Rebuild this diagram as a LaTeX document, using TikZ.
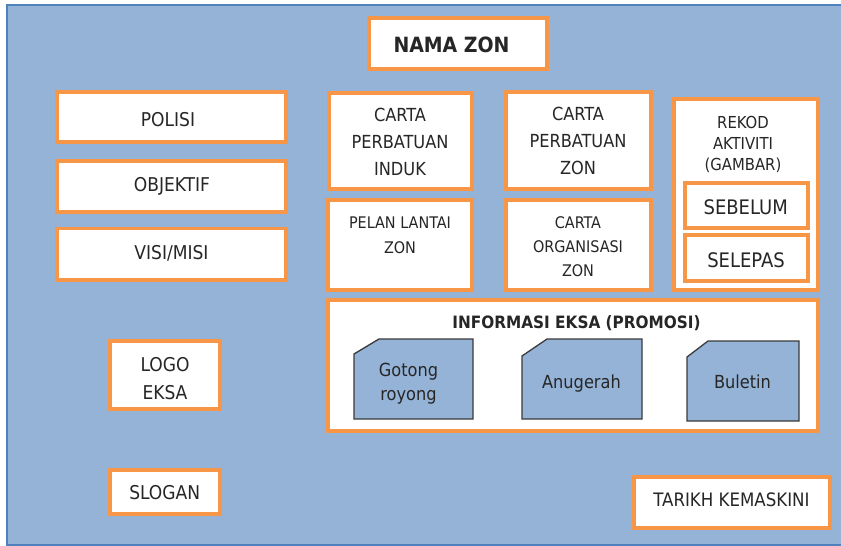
\documentclass[tikz,border=0pt]{standalone}
\usepackage{fontspec}
\setmainfont{DejaVu Sans Condensed}
\definecolor{bgblue}{HTML}{95B3D7}
\definecolor{bordblue}{HTML}{4F81BD}
\definecolor{orng}{HTML}{F79646}
\definecolor{txt}{HTML}{262626}
\definecolor{shapeline}{HTML}{3A3A3A}
\begin{document}
\begin{tikzpicture}[x=1pt,y=-1pt,
  obox/.style={draw=orng, line width=3.6pt, fill=white, inner sep=0pt, rectangle},
  lbl/.style={text=txt, inner sep=0pt, anchor=base, align=center},
  tagshape/.style={draw=shapeline, line width=1.3pt, fill=bgblue, line join=miter}]
\path[use as bounding box] (0,0) rectangle (841,546);
\draw[fill=bgblue, draw=bordblue, line width=2pt] (7,5) rectangle (846,545);

% boxes
\node[obox, minimum width=178.4pt, minimum height=51.4pt] (nama) at (458,43.5) {};
\node[obox, minimum width=229.4pt, minimum height=50.4pt] (polisi) at (171.5,117) {};
\node[obox, minimum width=229.4pt, minimum height=51.4pt] (objektif) at (171.5,186.5) {};
\node[obox, minimum width=229.4pt, minimum height=51.4pt] (visi) at (171.5,254) {};
\node[obox, minimum width=143.4pt, minimum height=96.4pt] (cpi) at (400.5,141) {};
\node[obox, minimum width=145.4pt, minimum height=97.4pt] (cpz) at (578.5,140.5) {};
\node[obox, minimum width=144.4pt, minimum height=90.4pt] (pelan) at (400,245) {};
\node[obox, minimum width=145.4pt, minimum height=90.4pt] (corg) at (578.5,245) {};
\node[obox, minimum width=490.4pt, minimum height=131.4pt] (info) at (573,365.5) {};
\node[obox, minimum width=144.4pt, minimum height=191.4pt] (rekod) at (746,194.5) {};
\node[obox, line width=4.4pt, minimum width=122.6pt, minimum height=44.6pt] (sebelum) at (746.5,205.5) {};
\node[obox, line width=4.4pt, minimum width=122.6pt, minimum height=45.6pt] (selepas) at (746.5,258) {};
\node[obox, minimum width=110.4pt, minimum height=68.4pt] (logo) at (165,375) {};
\node[obox, minimum width=110.4pt, minimum height=44.4pt] (slogan) at (165,492) {};
\node[obox, minimum width=196.4pt, minimum height=51.4pt] (tarikh) at (732,502.5) {};

% snipped shapes
\draw[tagshape] (354,354) -- (379,339) -- (473,339) -- (473,419) -- (354,419) -- cycle;
\draw[tagshape] (522,356) -- (547,339) -- (642,339) -- (642,419) -- (522,419) -- cycle;
\draw[tagshape] (687,357) -- (708,341) -- (799,341) -- (799,421) -- (687,421) -- cycle;

% texts (anchor base = baseline of last line)
\node[lbl, font=\bfseries\fontsize{21}{25}\selectfont] (namat) at (451.5,52) {NAMA ZON};
\node[lbl, font=\fontsize{19}{27}\selectfont] (polisit) at (168,126) {POLISI};
\node[lbl, font=\fontsize{19}{27}\selectfont] (objektift) at (172,191.7) {OBJEKTIF};
\node[lbl, font=\fontsize{19}{27}\selectfont] (visit) at (171.5,259) {VISI/MISI};
\node[lbl, font=\fontsize{18}{27}\selectfont] (cpit) at (400,175.7) {CARTA\\PERBATUAN\\INDUK};
\node[lbl, font=\fontsize{18}{27}\selectfont] (cpzt) at (578,174.8) {CARTA\\PERBATUAN\\ZON};
\node[lbl, font=\fontsize{16}{25}\selectfont] (pelant) at (400,253.3) {PELAN LANTAI\\ZON};
\node[lbl, font=\fontsize{16}{24.3}\selectfont] (corgt) at (578,276.8) {CARTA\\ORGANISASI\\ZON};
\node[lbl, font=\fontsize{16.5}{21}\selectfont] (rekodt) at (743,170.5) {REKOD\\AKTIVITI\\(GAMBAR)};
\node[lbl, font=\fontsize{20}{24}\selectfont] (sebelumt) at (745.7,214.3) {SEBELUM};
\node[lbl, font=\fontsize{20}{24}\selectfont] (selepast) at (746,267.7) {SELEPAS};
\node[lbl, font=\bfseries\fontsize{17}{20}\selectfont] (infot) at (576.5,328) {INFORMASI EKSA (PROMOSI)};
\node[lbl, font=\fontsize{18}{24}\selectfont] (gotongt) at (408.5,400.7) {Gotong\\royong};
\node[lbl, font=\fontsize{18}{24}\selectfont] (anugeraht) at (581.5,388.3) {Anugerah};
\node[lbl, font=\fontsize{18}{24}\selectfont] (buletint) at (742.5,388.3) {Buletin};
\node[lbl, font=\fontsize{19}{27.7}\selectfont] (logot) at (165,399.4) {LOGO\\EKSA};
\node[lbl, font=\fontsize{19}{24}\selectfont] (slogant) at (164.7,499.3) {SLOGAN};
\node[lbl, font=\fontsize{18.5}{24}\selectfont] (tarikht) at (731.5,506) {TARIKH KEMASKINI};
\end{tikzpicture}
\end{document}
